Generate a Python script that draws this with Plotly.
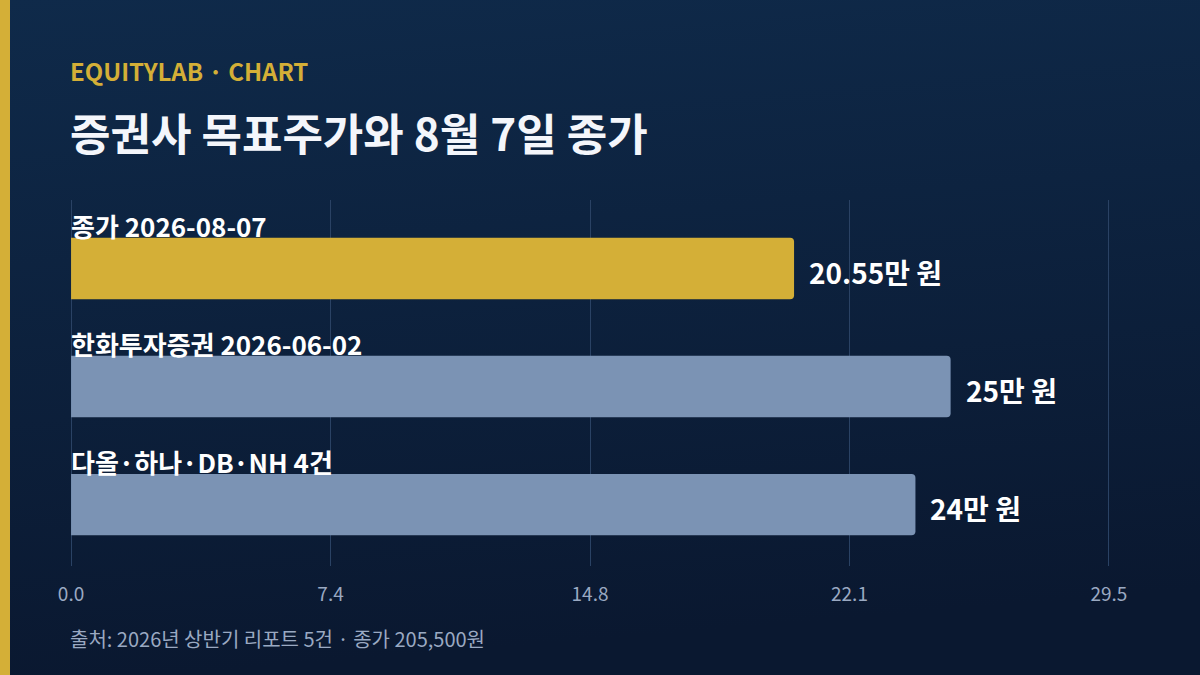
import base64
import plotly.graph_objects as go

# data (만 원 단위)
labels = ["종가 2026-08-07", "한화투자증권 2026-06-02", "다올·하나·DB·NH 4건"]
values = [20.55, 25, 24]
bar_colors = ["#d4af37", "#7b93b4", "#7b93b4"]
tick_vals = [0, 7.375, 14.75, 22.125, 29.5]
tick_text = ["0.0", "7.4", "14.8", "22.1", "29.5"]

W, H = 1200, 675
L, R, T, B = 70, 90, 200, 109
PW, PH = W - L - R, H - T - B

FONT = "Noto Sans CJK KR"


def px(x):
    return (x - L) / PW


def py(y):
    return (H - B - y) / PH


# vertical gradient background as an svg data uri
svg = (
    f'<svg xmlns="http://www.w3.org/2000/svg" width="{W}" height="{H}">'
    '<defs><linearGradient id="g" x1="0" y1="0" x2="0.15" y2="1">'
    '<stop offset="0" stop-color="#0f2a4a"/><stop offset="1" stop-color="#0a1830"/>'
    "</linearGradient></defs>"
    f'<rect width="{W}" height="{H}" fill="url(#g)"/></svg>'
)
bg_uri = "data:image/svg+xml;base64," + base64.b64encode(svg.encode()).decode()

idx = list(range(len(labels)))

fig = go.Figure()
fig.add_trace(
    go.Bar(
        x=values,
        y=idx,
        orientation="h",
        width=0.52,
        marker=dict(color=bar_colors, cornerradius=4, line=dict(width=0)),
        hoverinfo="skip",
    )
)

annotations = []
for i, (lab, v) in enumerate(zip(labels, values)):
    annotations.append(
        dict(
            x=0, y=i - 0.365, xref="x", yref="y", text=f"<b>{lab}</b>",
            xanchor="left", yanchor="middle", showarrow=False,
            font=dict(family=FONT, size=26, color="#ffffff"), xshift=-2,
        )
    )
    annotations.append(
        dict(
            x=v, y=i + 0.03, xref="x", yref="y", text=f"<b>{v:g}만 원</b>",
            xanchor="left", yanchor="middle", showarrow=False,
            font=dict(family=FONT, size=28, color="#ffffff"), xshift=13,
        )
    )

annotations += [
    dict(
        x=px(70), y=py(70), xref="paper", yref="paper",
        text="<b>EQUITYLAB · CHART</b>", xanchor="left", yanchor="middle",
        showarrow=False, font=dict(family=FONT, size=24, color="#d4af37"), xshift=-2,
    ),
    dict(
        x=px(70), y=py(132), xref="paper", yref="paper",
        text="<b>증권사 목표주가와 8월 7일 종가</b>", xanchor="left", yanchor="middle",
        showarrow=False, font=dict(family=FONT, size=44, color="#f4f6fb"), xshift=-2,
    ),
    dict(
        x=px(70), y=py(638), xref="paper", yref="paper",
        text="출처: 2026년 상반기 리포트 5건 · 종가 205,500원", xanchor="left",
        yanchor="middle", showarrow=False,
        font=dict(family=FONT, size=20, color="#9aa9c2"), xshift=-2,
    ),
]

fig.update_layout(
    width=W, height=H,
    margin=dict(l=L, r=R, t=T, b=B, pad=0),
    paper_bgcolor="#0c1f3a",
    plot_bgcolor="rgba(0,0,0,0)",
    showlegend=False,
    annotations=annotations,
    images=[
        dict(
            source=bg_uri, xref="paper", yref="paper",
            x=px(0), y=py(0), sizex=W / PW, sizey=H / PH,
            xanchor="left", yanchor="top", sizing="stretch", layer="below",
        )
    ],
    shapes=[
        dict(
            type="rect", xref="paper", yref="paper",
            x0=px(0), x1=px(10), y0=py(H), y1=py(0),
            fillcolor="#d4af37", line=dict(width=0), layer="above",
        )
    ],
    xaxis=dict(
        # tiny padding so the grid lines at 0 and 29.5 are not dropped at the edges
        range=[-0.03, 29.53], tickvals=tick_vals, ticktext=tick_text,
        showgrid=True, gridcolor="#2a4264", gridwidth=1, zeroline=False,
        showline=False, ticks="", ticklabelstandoff=15,
        tickfont=dict(family=FONT, size=19, color="#9aa9c2"),
        fixedrange=True,
    ),
    yaxis=dict(
        range=[2.52, -0.58], showticklabels=False, showgrid=False,
        zeroline=False, showline=False, fixedrange=True,
    ),
)

# drop the default page margin so the chart sits flush in the window
fig.write_html(
    "out.html",
    config={"displayModeBar": False},
    post_script="document.body.style.margin='0';",
)
